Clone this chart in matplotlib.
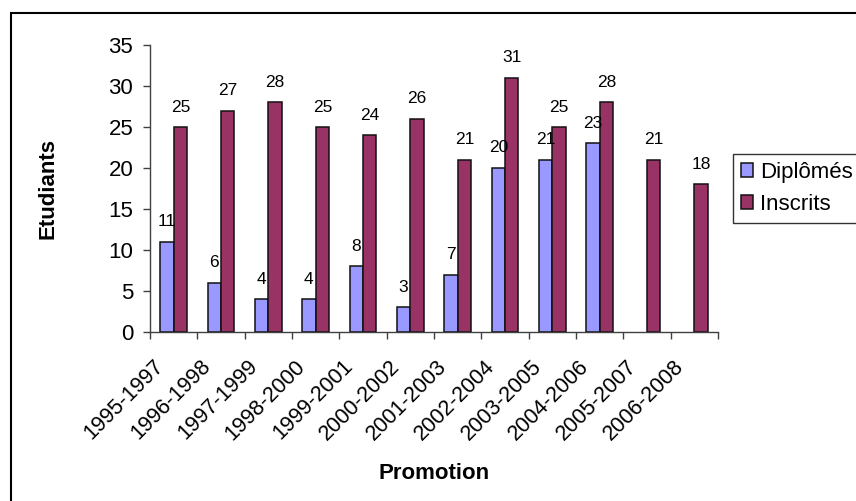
import matplotlib.pyplot as plt
import matplotlib.patches as patches
import matplotlib.transforms as mtransforms
import numpy as np

plt.rcParams['font.family'] = ['Liberation Sans', 'DejaVu Sans']

# Data
promotions = ["1995-1997", "1996-1998", "1997-1999", "1998-2000", "1999-2001",
              "2000-2002", "2001-2003", "2002-2004", "2003-2005", "2004-2006",
              "2005-2007", "2006-2008"]
diplomes = [11, 6, 4, 4, 8, 3, 7, 20, 21, 23, None, None]
inscrits = [25, 27, 28, 25, 24, 26, 21, 31, 25, 28, 21, 18]

color_dipl = "#9999FF"
color_insc = "#993366"

fig = plt.figure(figsize=(8.56, 5.01), dpi=100)
ax = fig.add_axes([150 / 856, 1 - 332 / 501, 568 / 856, 287 / 501])

x = np.arange(len(promotions))
w = 0.285

d_idx = [i for i, v in enumerate(diplomes) if v is not None]
d_val = [diplomes[i] for i in d_idx]
bars_d = ax.bar(x[d_idx] - w / 2, d_val, w, color=color_dipl, edgecolor="#111111",
                linewidth=1.1, label="Diplômés")
bars_i = ax.bar(x + w / 2, inscrits, w, color=color_insc, edgecolor="#111111",
                linewidth=1.1, label="Inscrits")

for b, v in zip(list(bars_d) + list(bars_i), d_val + inscrits):
    ax.annotate(str(v), (b.get_x() + b.get_width() / 2, v), xytext=(0, 9),
                textcoords="offset points", ha="center", va="bottom",
                fontsize=12.5)

ax.set_xlim(-0.5, len(promotions) - 0.5)
ax.set_ylim(0, 35)
ax.set_yticks(range(0, 36, 5))
ax.tick_params(axis="y", labelsize=16, length=5, direction="out", width=1,
               pad=7, color="#404040")

ax.set_xticks(x)
ax.set_xticklabels(promotions, rotation=45, ha="right", va="top",
                   rotation_mode="anchor", fontsize=15.6)
ax.tick_params(axis="x", which="major", length=0, pad=10)
shift = mtransforms.ScaledTranslation(-21 / 100, -10 / 100, fig.dpi_scale_trans)
for lbl in ax.get_xticklabels():
    lbl.set_transform(lbl.get_transform() + shift)
ax.set_xticks(np.arange(-0.5, len(promotions), 1), minor=True)
ax.tick_params(axis="x", which="minor", length=5, width=1, direction="out",
               color="#404040")

for s in ["top", "right"]:
    ax.spines[s].set_visible(False)
for s in ["left", "bottom"]:
    ax.spines[s].set_color("#404040")
    ax.spines[s].set_linewidth(1)

ax.set_ylabel("Etudiants", fontsize=16, fontweight="bold")
ax.yaxis.set_label_coords(-0.161, 0.5)
ax.set_xlabel("Promotion", fontsize=16, fontweight="bold")
ax.xaxis.set_label_coords(0.5, -0.455)

leg = fig.legend(handles=[bars_d, bars_i], labels=["Diplômés", "Inscrits"],
                 loc="upper left", bbox_to_anchor=(733 / 856, 1 - 154 / 501),
                 fontsize=16, frameon=True, fancybox=False, edgecolor="black",
                 handlelength=0.55, handleheight=0.55, handletextpad=0.3,
                 borderpad=0.35, labelspacing=0.5, borderaxespad=0)
leg.get_frame().set_linewidth(1)

# outer chart border
fig.patches.append(patches.Rectangle((11 / 856, -0.1), 1.0, 1 - 13 / 501 + 0.1,
                                     transform=fig.transFigure, fill=False,
                                     edgecolor="black", linewidth=1.5))

fig.savefig("out.png", dpi=100)
